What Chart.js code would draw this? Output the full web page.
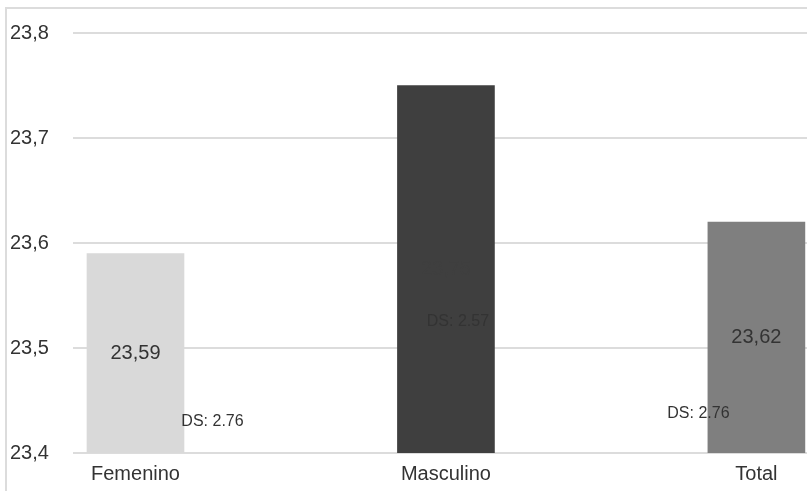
<!DOCTYPE html>
<html>
<head>
<meta charset="utf-8">
<script src="https://cdn.jsdelivr.net/npm/chart.js@4.4.1/dist/chart.umd.min.js"></script>
<style>
  html, body { margin: 0; padding: 0; background: #fff; }
  #wrap { position: relative; width: 807px; height: 491px; overflow: hidden; }
  #frame { position: absolute; left: 5px; top: 7px; right: -10px; bottom: -10px;
           border-top: 2px solid #dcdcdc; border-left: 2px solid #dcdcdc; pointer-events: none; }
  canvas { position: absolute; left: 0; top: 0; }
</style>
</head>
<body>
<div id="wrap">
  <canvas id="chart" width="807" height="491"></canvas>
  <div id="frame"></div>
</div>
<script>
// data
const categories = ['Femenino', 'Masculino', 'Total'];
const means = [23.59, 23.75, 23.62];
const sdLabels = ['DS: 2.76', 'DS: 2.57', 'DS: 2.76'];
const barColors = ['#d9d9d9', '#3f3f3f', '#7f7f7f'];
// value text colour per bar (the dark bar hides its own label in the original)
const valueColors = ['#333', '#3f3f3f', '#333'];
const yTicks = [23.4, 23.5, 23.6, 23.7, 23.8];

// where the DS notes sit, relative to the bar centre / plot bottom
const sdOffsets = [[77, -31], [12, -131], [-58, -39]];

const FONT = '"Liberation Sans", Arial, Helvetica, sans-serif';
const comma = v => v.toFixed(2).replace('.', ',');

const labelsPlugin = {
  id: 'barLabels',
  afterDatasetsDraw(chart) {
    const ctx = chart.ctx;
    const bars = chart.getDatasetMeta(0).data;
    const bottom = chart.chartArea.bottom;
    ctx.save();
    ctx.textAlign = 'center';
    ctx.textBaseline = 'middle';
    bars.forEach((bar, i) => {
      ctx.font = '20px ' + FONT;
      ctx.fillStyle = valueColors[i];
      ctx.fillText(comma(means[i]), bar.x, (bar.y + bottom) / 2);
      ctx.font = '16px ' + FONT;
      ctx.fillStyle = '#333';
      ctx.fillText(sdLabels[i], bar.x + sdOffsets[i][0], bottom + sdOffsets[i][1]);
    });
    ctx.restore();
  }
};

new Chart(document.getElementById('chart'), {
  type: 'bar',
  data: {
    datasets: [{
      data: means.map((v, i) => ({ x: i, y: v })),
      backgroundColor: barColors,
      barThickness: 97,
      borderWidth: 0
    }]
  },
  options: {
    responsive: false,
    animation: false,
    layout: { padding: { top: 33, left: 10, right: 0, bottom: 0 } },
    plugins: { legend: { display: false }, tooltip: { enabled: false } },
    scales: {
      x: {
        type: 'linear',
        offset: false,
        min: -0.2013,
        max: 2.163,
        afterBuildTicks: s => { s.ticks = categories.map((_, i) => ({ value: i })); },
        afterFit: s => { s.height = 38; },
        grid: { display: false },
        border: { display: false },
        ticks: {
          autoSkip: false, maxRotation: 0, padding: 1,
          color: '#333', font: { family: FONT, size: 20 },
          callback: v => categories[v]
        }
      },
      y: {
        min: yTicks[0],
        max: yTicks[yTicks.length - 1],
        afterBuildTicks: s => { s.ticks = yTicks.map(v => ({ value: v })); },
        afterFit: s => { s.width = 63; },
        grid: { color: '#dcdcdc', lineWidth: 2, drawTicks: false },
        border: { display: false },
        ticks: {
          crossAlign: 'far',
          color: '#333', font: { family: FONT, size: 20 },
          callback: v => v.toFixed(1).replace('.', ',')
        }
      }
    }
  },
  plugins: [labelsPlugin]
});
</script>
</body>
</html>
